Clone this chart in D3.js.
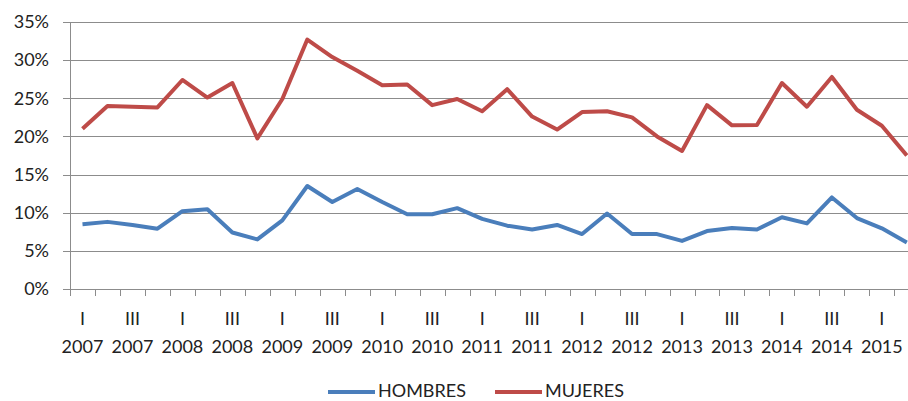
<!DOCTYPE html>
<html>
<head>
<meta charset="utf-8">
<script src="https://cdn.jsdelivr.net/npm/d3@7"></script>
<style>
  body { margin: 0; background: #fff; }
  svg { display: block; font-family: Lato, "Open Sans", sans-serif; }
</style>
</head>
<body>
<div id="chart"></div>
<script>
// quarters 2007 I .. 2015 II
var quarters = [];
var romans = ['I', 'II', 'III', 'IV'];
for (var yr = 2007; yr <= 2015; yr++) {
    for (var q = 0; q < 4; q++) {
        if (yr == 2015 && q > 1) break;
        quarters.push({ q: romans[q], year: String(yr) });
    }
}

var hombres = [8.5, 8.8, 8.4, 7.9, 10.2, 10.45, 7.4, 6.5, 9.0, 13.5, 11.4, 13.1, 11.4, 9.8, 9.8, 10.6,
               9.2, 8.3, 7.8, 8.4, 7.2, 9.9, 7.2, 7.2, 6.3, 7.6, 8.0, 7.8, 9.4, 8.6, 12.0, 9.3, 7.95, 6.1];
var mujeres = [21.0, 24.0, 23.9, 23.8, 27.4, 25.1, 27.0, 19.75, 24.9, 32.7, 30.4, 28.6, 26.7, 26.8, 24.1, 24.9,
               23.3, 26.2, 22.6, 20.9, 23.2, 23.3, 22.5, 20.0, 18.1, 24.1, 21.45, 21.5, 27.0, 23.9, 27.8, 23.5, 21.4, 17.5];

var yTicks = [0, 5, 10, 15, 20, 25, 30, 35];
var seriesNames = ['HOMBRES', 'MUJERES'];
var seriesColors = ['#4a7ebb', '#be4b48'];

var w = 908;
var h = 401;
var padLeft = 70;
var padTop = 22;
var padBottom = 289;
var step = 24.98;

var svg = d3.select('#chart')
    .append('svg')
    .attr('width', w)
    .attr('height', h);

var xScale = d3.scaleBand()
    .domain(d3.range(quarters.length))
    .range([padLeft, padLeft + step * quarters.length])
    .padding(0);

var yScale = d3.scaleLinear()
    .domain([0, 35])
    .range([padBottom, padTop]);

// gridlines
svg.append('g')
    .selectAll('line')
    .data(yTicks)
    .enter()
    .append('line')
    .attr('x1', padLeft - 7)
    .attr('x2', padLeft + step * quarters.length)
    .attr('y1', function(d) { return Math.round(yScale(d)) + 0.5; })
    .attr('y2', function(d) { return Math.round(yScale(d)) + 0.5; })
    .attr('stroke', '#8c8c8c')
    .attr('stroke-width', 1);

// y axis line
svg.append('line')
    .attr('x1', padLeft + 0.5)
    .attr('x2', padLeft + 0.5)
    .attr('y1', yScale(35))
    .attr('y2', padBottom + 7)
    .attr('stroke', '#8c8c8c');

// x ticks
svg.append('g')
    .selectAll('line')
    .data(d3.range(quarters.length + 1))
    .enter()
    .append('line')
    .attr('x1', function(d) { return Math.round(padLeft + d * step) + 0.5; })
    .attr('x2', function(d) { return Math.round(padLeft + d * step) + 0.5; })
    .attr('y1', padBottom)
    .attr('y2', padBottom + 7)
    .attr('stroke', '#8c8c8c');

// y labels
svg.append('g')
    .selectAll('text')
    .data(yTicks)
    .enter()
    .append('text')
    .attr('x', 49)
    .attr('y', function(d) { return yScale(d); })
    .attr('dy', '0.35em')
    .attr('text-anchor', 'end')
    .attr('font-size', 18)
    .attr('fill', '#222')
    .text(function(d) { return d + '%'; });

// x labels, every other quarter
var labelled = quarters.map(function(d, i) { return { i: i, q: d.q, year: d.year }; })
    .filter(function(d) { return d.i % 2 == 0; });

var xl = svg.append('g');
xl.selectAll('text.q')
    .data(labelled)
    .enter()
    .append('text')
    .attr('class', 'q')
    .attr('x', function(d) { return xScale(d.i) + xScale.bandwidth() / 2; })
    .attr('y', 325)
    .attr('text-anchor', 'middle')
    .attr('font-size', 18)
    .attr('fill', '#222')
    .text(function(d) { return d.q; });
xl.selectAll('text.y')
    .data(labelled)
    .enter()
    .append('text')
    .attr('class', 'y')
    .attr('x', function(d) { return xScale(d.i) + xScale.bandwidth() / 2; })
    .attr('y', 353)
    .attr('text-anchor', 'middle')
    .attr('font-size', 18)
    .attr('fill', '#222')
    .text(function(d) { return d.year; });

// lines
var line = d3.line()
    .x(function(d, i) { return xScale(i) + xScale.bandwidth() / 2; })
    .y(function(d) { return yScale(d); });

[hombres, mujeres].forEach(function(series, k) {
    svg.append('path')
        .datum(series)
        .attr('d', line)
        .attr('fill', 'none')
        .attr('stroke', seriesColors[k])
        .attr('stroke-width', 4)
        .attr('stroke-linejoin', 'round');
});

// legend
var legendX = [328, 495];
seriesNames.forEach(function(name, k) {
    svg.append('line')
        .attr('x1', legendX[k])
        .attr('x2', legendX[k] + 47)
        .attr('y1', 392)
        .attr('y2', 392)
        .attr('stroke', seriesColors[k])
        .attr('stroke-width', 4);
    svg.append('text')
        .attr('x', legendX[k] + 50)
        .attr('y', 397)
        .attr('font-size', 18)
        .attr('fill', '#222')
        .text(name);
});
</script>
</body>
</html>
